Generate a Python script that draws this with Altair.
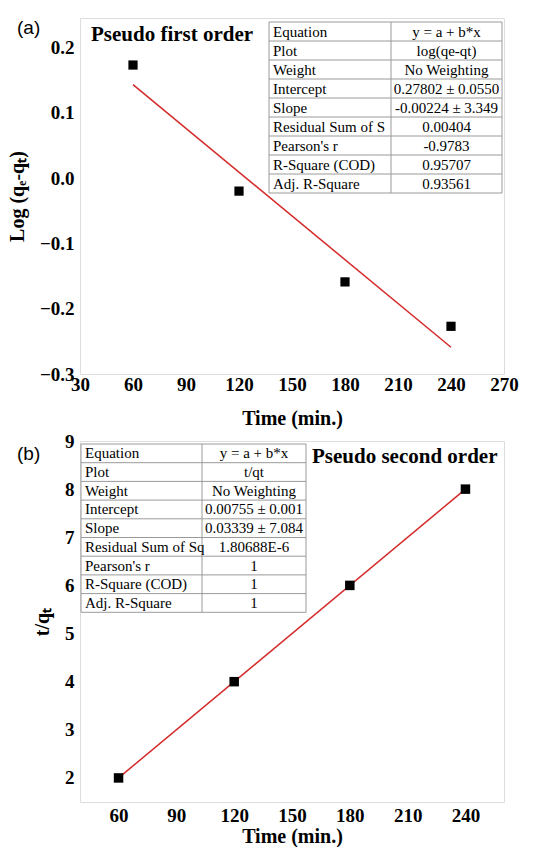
import altair as alt
import pandas as pd

# ---------------- data ----------------
time_a = [60, 120, 180, 240]
logq_a = [0.173, -0.020, -0.159, -0.227]
fit_a_x = [60, 240]
fit_a_y = [0.143, -0.259]

time_b = [60, 120, 180, 240]
tq_b = [2.0, 4.0, 6.0, 8.0]
fit_b_x = [60, 240]
fit_b_y = [2.0, 8.0]

xticks_a = [30, 60, 90, 120, 150, 180, 210, 240, 270]
yticks_a = [-0.3, -0.2, -0.1, 0.0, 0.1, 0.2]
xticks_b = [60, 90, 120, 150, 180, 210, 240]
yticks_b = [2, 3, 4, 5, 6, 7, 8, 9]

tab_labels_a = ["Equation", "Plot", "Weight", "Intercept", "Slope",
                "Residual Sum of S", "Pearson's r", "R-Square (COD)", "Adj. R-Square"]
tab_values_a = ["y = a + b*x", "log(qe-qt)", "No Weighting", "0.27802 ± 0.0550",
                "-0.00224 ± 3.349", "0.00404", "-0.9783", "0.95707", "0.93561"]
tab_labels_b = ["Equation", "Plot", "Weight", "Intercept", "Slope",
                "Residual Sum of Sq", "Pearson's r", "R-Square (COD)", "Adj. R-Square"]
tab_values_b = ["y = a + b*x", "t/qt", "No Weighting", "0.00755 ± 0.001",
                "0.03339 ± 7.084", "1.80688E-6", "1", "1", "1"]

# ---------------- style ----------------
SERIF = "Liberation Serif"
SANS = "Liberation Sans"
RED = "#D42A2A"
W = 424
HA = 356
HB = 361


def axis_x(vals, pad, tpad):
    return alt.Axis(values=vals, ticks=False, domain=False, grid=False,
                    labelFont=SERIF, labelFontWeight="bold", labelFontSize=19,
                    labelColor="black", labelPadding=pad, labelFlush=False,
                    title="Time (min.)", titleFont=SERIF, titleFontWeight="bold",
                    titleFontSize=20, titleColor="black", titlePadding=tpad)


def axis_y(vals, fmt, title):
    return alt.Axis(values=vals, ticks=False, domain=False, grid=False, format=fmt,
                    labelFont=SERIF, labelFontWeight="bold", labelFontSize=19,
                    labelColor="black", labelPadding=6, labelFlush=False,
                    title=title, titleFont=SERIF, titleFontWeight="bold",
                    titleFontSize=20, titleColor="black", titlePadding=12)


def table_layers(labels, values, left, mid, right, top, rh):
    n = len(labels)
    df = pd.DataFrame({"label": labels, "value": values, "row": list(range(n))})
    base = alt.Chart(df).transform_calculate(ty=f"{top} + (datum.row + 0.5) * {rh}")
    lab = base.mark_text(align="left", baseline="middle", font=SERIF, fontSize=15,
                         color="black").encode(
        x=alt.value(left + 4), y=alt.Y("ty:Q", scale=None, axis=None), text="label:N")
    val = base.mark_text(align="center", baseline="middle", font=SERIF, fontSize=15,
                         color="black").encode(
        x=alt.value((mid + right) / 2), y=alt.Y("ty:Q", scale=None, axis=None),
        text="value:N")
    hl = alt.Chart(pd.DataFrame({"i": list(range(n + 1))})).transform_calculate(
        ly=f"{top} + datum.i * {rh}").mark_rule(color="#9a9a9a", strokeWidth=1).encode(
        x=alt.value(left), x2=alt.value(right), y=alt.Y("ly:Q", scale=None, axis=None))
    vl = alt.Chart(pd.DataFrame({"vx": [left, mid, right]})).mark_rule(
        color="#9a9a9a", strokeWidth=1).encode(
        x=alt.X("vx:Q", scale=None, axis=None), y=alt.value(top), y2=alt.value(top + n * rh))
    return [hl, vl, lab, val]


def label_text(txt, x, y, font, size, weight="normal"):
    return alt.Chart(pd.DataFrame({"t": [txt]})).mark_text(
        align="left", baseline="middle", font=font, fontSize=size, fontWeight=weight,
        color="black").encode(x=alt.value(x), y=alt.value(y), text="t:N")


# ---------------- panel (a) ----------------
xa = alt.Scale(domain=[30, 270], nice=False, zero=False)
ya = alt.Scale(domain=[-0.3, 0.245], nice=False, zero=False)
df_a = pd.DataFrame({"t": time_a, "y": logq_a})
df_fa = pd.DataFrame({"t": fit_a_x, "y": fit_a_y})

line_a = alt.Chart(df_fa).mark_line(color=RED, strokeWidth=1.5).encode(
    x=alt.X("t:Q", scale=xa, axis=axis_x(xticks_a, 1, 14)),
    y=alt.Y("y:Q", scale=ya, axis=axis_y(yticks_a, ".1f", "Log (qₑ-qₜ)")))
pts_a = alt.Chart(df_a).mark_square(color="black", size=85, opacity=1).encode(
    x=alt.X("t:Q", scale=xa), y=alt.Y("y:Q", scale=ya))

panel_a = alt.layer(
    *table_layers(tab_labels_a, tab_values_a, 189, 311, 422, 4, 19),
    line_a, pts_a,
    label_text("Pseudo first order", 11, 17, SERIF, 21, "bold"),
    label_text("(a)", -63, 10, SANS, 19),
).properties(width=W, height=HA)

# ---------------- panel (b) ----------------
xb = alt.Scale(domain=[40, 260], nice=False, zero=False)
yb = alt.Scale(domain=[1.5, 9], nice=False, zero=False)
df_b = pd.DataFrame({"t": time_b, "y": tq_b})
df_fb = pd.DataFrame({"t": fit_b_x, "y": fit_b_y})

line_b = alt.Chart(df_fb).mark_line(color=RED, strokeWidth=1.5).encode(
    x=alt.X("t:Q", scale=xb, axis=axis_x(xticks_b, 4, 1)),
    y=alt.Y("y:Q", scale=yb, axis=axis_y(yticks_b, "d", "t/qₜ")))
pts_b = alt.Chart(df_b).mark_square(color="black", size=90, opacity=1).encode(
    x=alt.X("t:Q", scale=xb), y=alt.Y("y:Q", scale=yb))

panel_b = alt.layer(
    *table_layers(tab_labels_b, tab_values_b, 1, 122, 226, 3, 18.7),
    line_b, pts_b,
    label_text("Pseudo second order", 232, 16, SERIF, 21, "bold"),
    label_text("(b)", -63, 13, SANS, 19),
).properties(width=W, height=HB)

chart = alt.vconcat(panel_a, panel_b, spacing=2).properties(
    padding={"top": 17, "left": 6, "right": 5, "bottom": 0}
).configure_view(stroke="black", strokeWidth=1.5).configure(background="white")

chart.save("out.html", embed_options={"renderer": "svg", "actions": False})
